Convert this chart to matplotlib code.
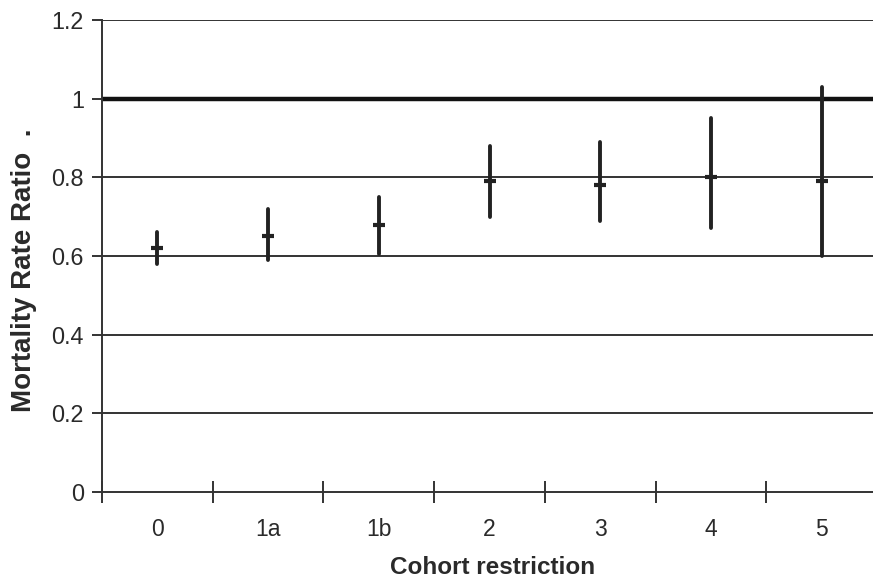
import matplotlib.pyplot as plt

plt.rcParams['font.family'] = ['Liberation Sans', 'DejaVu Sans']

# Cohort restriction categories
cohorts = ['0', '1a', '1b', '2', '3', '4', '5']

# Mortality rate ratio and 95% CI
ratio = [0.62, 0.65, 0.68, 0.79, 0.78, 0.80, 0.79]
lower = [0.58, 0.59, 0.605, 0.70, 0.69, 0.67, 0.60]
upper = [0.66, 0.72, 0.75, 0.88, 0.89, 0.95, 1.03]

yticks = [0, 0.2, 0.4, 0.6, 0.8, 1.0, 1.2]
ytick_labels = ['0', '0.2', '0.4', '0.6', '0.8', '1', '1.2']

fig = plt.figure(figsize=(8.73, 5.82), dpi=100)
ax = fig.add_axes([102 / 873, 90 / 582, 775 / 873, 472 / 582])

x = list(range(len(cohorts)))
dark = '#222222'
txt = '#2a2a2a'

# grid lines
for yv in yticks[1:]:
    ax.axhline(yv, color='#333333', linewidth=1.4, zorder=1)
ax.axhline(1.0, color='#111111', linewidth=3.2, zorder=2)

# confidence intervals
ax.vlines(x, lower, upper, color=dark, linewidth=2.8, capstyle='round', zorder=3)
ax.plot(x, ratio, linestyle='none', marker='_', markersize=9,
        markeredgewidth=3, color=dark, zorder=4)

ax.set_xlim(-0.5, len(cohorts) - 0.5)
ax.set_ylim(0, 1.2)

ax.set_yticks(yticks)
ax.set_yticklabels(ytick_labels, fontsize=16.8, color=txt)
ax.set_xticks([i - 0.5 for i in range(len(cohorts))])
ax.set_xticklabels([])
ax.set_xticks(x, minor=True)
ax.set_xticklabels(cohorts, minor=True, fontsize=16.5, color=txt)

ax.tick_params(axis='y', direction='out', length=7, width=1.4,
               color='#333333', pad=6)
ax.tick_params(axis='x', which='major', direction='inout', length=16,
               width=1.4, color='#333333')
ax.tick_params(axis='x', which='minor', length=0, pad=19)

for s in ['top', 'right']:
    ax.spines[s].set_visible(False)
for s in ['left', 'bottom']:
    ax.spines[s].set_color('#333333')
    ax.spines[s].set_linewidth(1.4)

fig.text(493 / 873, 1 - 567 / 582, 'Cohort restriction', fontsize=17.5,
         fontweight='bold', color=txt, ha='center', va='center')
fig.text(24 / 873, 1 - 270 / 582, 'Mortality Rate Ratio  .', fontsize=20,
         fontweight='bold', color=txt, ha='center', va='center', rotation=90)

fig.savefig('out.png', dpi=100)
